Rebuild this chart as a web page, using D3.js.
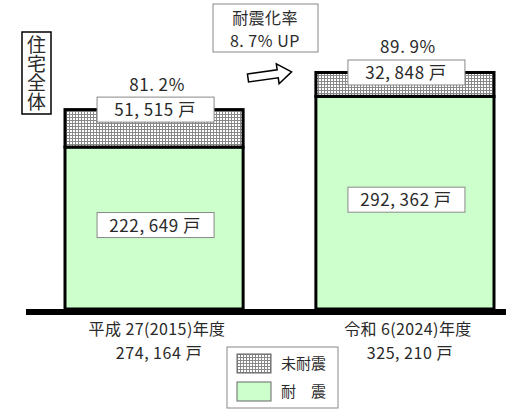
<!DOCTYPE html>
<html>
<head>
<meta charset="utf-8">
<script src="https://cdn.jsdelivr.net/npm/d3@7"></script>
<style>
  body { margin: 0; background: #fff; }
  svg text { font-family: "Noto Sans CJK JP", sans-serif; fill: #2a2a2a; }
</style>
</head>
<body>
<div id="chart"></div>
<script>
// data
var categories = ["平成 27(2015)年度", "令和 6(2024)年度"];
var taishin = [222649, 292362];      // 耐震
var mitaishin = [51515, 32848];      // 未耐震
var totals = [274164, 325210];
var rates = ["81.2%", "89.9%"];
var legendLabels = ["未耐震", "耐　震"];

var width = 506, height = 413;
var baseline = 309;

var svg = d3.select("#chart").append("svg")
    .attr("width", width)
    .attr("height", height);

// hatch pattern
var defs = svg.append("defs");
var pat = defs.append("pattern")
    .attr("id", "hatch")
    .attr("patternUnits", "userSpaceOnUse")
    .attr("width", 3).attr("height", 3);
pat.append("rect").attr("width", 3).attr("height", 3).attr("fill", "#fff");
pat.append("rect").attr("width", 3).attr("height", 1).attr("fill", "#888");
pat.append("rect").attr("width", 1).attr("height", 3).attr("fill", "#888");

var x = d3.scaleBand()
    .domain(categories)
    .range([65, 494])
    .paddingInner(0.29)
    .paddingOuter(0);

var y = d3.scaleLinear()
    .domain([0, 330000])
    .range([baseline, baseline - 240]);

var fmt = function(v) { return d3.format(",")(v).replace(",", ",\u2009"); };

var bars = categories.map(function(c, i) {
    return { cat: c, taishin: taishin[i], mitaishin: mitaishin[i], total: totals[i], rate: rates[i] };
});

// bars
var g = svg.selectAll(".bar").data(bars).enter().append("g").attr("class", "bar");

g.append("rect")
    .attr("x", function(d) { return x(d.cat); })
    .attr("y", function(d) { return y(d.taishin); })
    .attr("width", x.bandwidth())
    .attr("height", function(d) { return baseline - y(d.taishin); })
    .attr("fill", "#ccffcc")
    .attr("stroke", "#000")
    .attr("stroke-width", 3);

g.append("rect")
    .attr("x", function(d) { return x(d.cat); })
    .attr("y", function(d) { return y(d.taishin + d.mitaishin); })
    .attr("width", x.bandwidth())
    .attr("height", function(d) { return y(d.taishin) - y(d.taishin + d.mitaishin); })
    .attr("fill", "url(#hatch)")
    .attr("stroke", "#000")
    .attr("stroke-width", 3);

// baseline
svg.append("rect")
    .attr("x", 26).attr("y", baseline)
    .attr("width", width - 26).attr("height", 6)
    .attr("fill", "#000");

// value boxes
function valueBox(sel, cy) {
    sel.append("rect")
        .attr("x", function(d) { return x(d.cat) + x.bandwidth() / 2 - 57; })
        .attr("y", function(d) { return cy(d) - 12.5; })
        .attr("width", 117).attr("height", 25)
        .attr("fill", "#fff")
        .attr("stroke", "#888")
        .attr("stroke-width", 1);
}

function topY(d) { return y(d.taishin + d.mitaishin); }
function midY(d) { return (y(d.taishin) + baseline) / 2 - 3; }

valueBox(g, topY);
g.append("text")
    .attr("x", function(d) { return x(d.cat) + x.bandwidth() / 2 + 1; })
    .attr("y", function(d) { return topY(d) + 6.5; })
    .attr("text-anchor", "middle")
    .attr("font-size", 17)
    .attr("letter-spacing", 0.6)
    .text(function(d) { return fmt(d.mitaishin) + " 戸"; });

valueBox(g, midY);
g.append("text")
    .attr("x", function(d) { return x(d.cat) + x.bandwidth() / 2 + 1; })
    .attr("y", function(d) { return midY(d) + 6.5; })
    .attr("text-anchor", "middle")
    .attr("font-size", 17)
    .attr("letter-spacing", 0.6)
    .text(function(d) { return fmt(d.taishin) + " 戸"; });

// rate labels
g.append("text")
    .attr("x", function(d) { return x(d.cat) + x.bandwidth() / 2 + 3; })
    .attr("y", function(d) { return topY(d) - 19; })
    .attr("text-anchor", "middle")
    .attr("font-size", 17)
    .attr("letter-spacing", 0.6)
    .text(function(d) { return d.rate.replace(".", ".\u2009"); });

// category labels
g.append("text")
    .attr("x", function(d) { return x(d.cat) + x.bandwidth() / 2 + 3; })
    .attr("y", 335)
    .attr("text-anchor", "middle")
    .attr("font-size", 16)
    .attr("letter-spacing", 0.4)
    .text(function(d) { return d.cat; });

g.append("text")
    .attr("x", function(d) { return x(d.cat) + x.bandwidth() / 2 + 5; })
    .attr("y", 359)
    .attr("text-anchor", "middle")
    .attr("font-size", 16)
    .attr("letter-spacing", 0.6)
    .text(function(d) { return fmt(d.total) + " 戸"; });

// vertical title
svg.append("rect")
    .attr("x", 22).attr("y", 32)
    .attr("width", 29).attr("height", 82)
    .attr("fill", "#fff")
    .attr("stroke", "#000")
    .attr("stroke-width", 1.5);
svg.append("text")
    .attr("x", 36.5).attr("y", 35)
    .attr("font-size", 19)
    .style("writing-mode", "vertical-rl")
    .text("住宅全体");

// rate-up box
svg.append("rect")
    .attr("x", 213).attr("y", 4)
    .attr("width", 105).attr("height", 48)
    .attr("fill", "#fff")
    .attr("stroke", "#888")
    .attr("stroke-width", 1);
svg.append("text")
    .attr("x", 265).attr("y", 24)
    .attr("text-anchor", "middle")
    .attr("font-size", 16)
    .attr("letter-spacing", 0.4)
    .text("耐震化率");
svg.append("text")
    .attr("x", 265).attr("y", 47)
    .attr("text-anchor", "middle")
    .attr("font-size", 16)
    .attr("letter-spacing", 0.6)
    .text("8.\u20097% UP");

// arrow
svg.append("path")
    .attr("d", "M0,-4 L30,-4 L30,-10 L44,0 L30,10 L30,4 L0,4 Z")
    .attr("transform", "translate(248,78) rotate(-8)")
    .attr("fill", "#fff")
    .attr("stroke", "#000")
    .attr("stroke-width", 1.5);

// legend
var legend = svg.append("g");
legend.append("rect")
    .attr("x", 227).attr("y", 347)
    .attr("width", 111).attr("height", 61)
    .attr("fill", "#fff")
    .attr("stroke", "#888")
    .attr("stroke-width", 1);
var fills = ["url(#hatch)", "#ccffcc"];
legendLabels.forEach(function(l, i) {
    legend.append("rect")
        .attr("x", 237).attr("y", 354 + i * 28)
        .attr("width", 34).attr("height", 19)
        .attr("fill", fills[i])
        .attr("stroke", "#666")
        .attr("stroke-width", 1);
    legend.append("text")
        .attr("x", 281).attr("y", 369 + i * 28)
        .attr("font-size", 15)
        .text(l);
});
</script>
</body>
</html>
